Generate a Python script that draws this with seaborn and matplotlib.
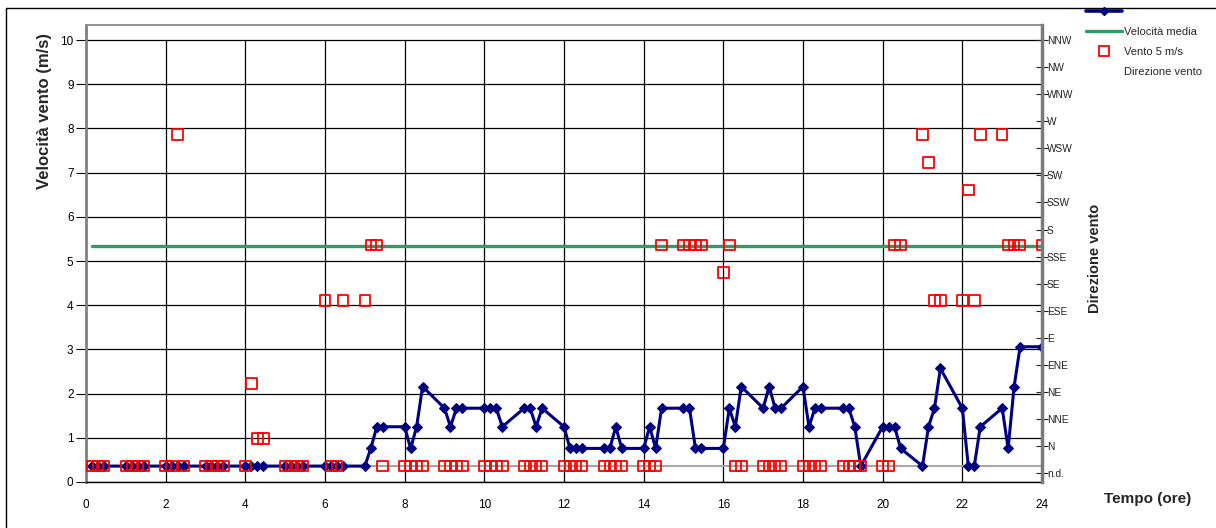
import matplotlib
matplotlib.use('Agg')
import matplotlib.pyplot as plt
from matplotlib.lines import Line2D
import seaborn as sns

# sample times (hours)
times = [0.15, 0.3, 0.45,
         1.0, 1.15, 1.3, 1.45, 2.0, 2.15, 2.3, 2.45, 3.0, 3.15, 3.3, 3.45,
         4.0, 4.15, 4.3, 4.45, 5.0, 5.15, 5.3, 5.45, 6.0, 6.15, 6.3, 6.45,
         7.0, 7.15, 7.3, 7.45, 8.0, 8.15, 8.3, 8.45, 9.0, 9.15, 9.3, 9.45,
         10.0, 10.15, 10.3, 10.45, 11.0, 11.15, 11.3, 11.45, 12.0, 12.15, 12.3, 12.45,
         13.0, 13.15, 13.3, 13.45, 14.0, 14.15, 14.3, 14.45, 15.0, 15.15, 15.3, 15.45,
         16.0, 16.15, 16.3, 16.45, 17.0, 17.15, 17.3, 17.45, 18.0, 18.15, 18.3, 18.45,
         19.0, 19.15, 19.3, 19.45, 20.0, 20.15, 20.3, 20.45, 21.0, 21.15, 21.3, 21.45,
         22.0, 22.15, 22.3, 22.45, 23.0, 23.15, 23.3, 23.45, 24.0]

# wind speed (m/s)
speed = [0.36, 0.36, 0.36,
         0.36, 0.36, 0.36, 0.36, 0.36, 0.36, 0.36, 0.36, 0.36, 0.36, 0.36, 0.36,
         0.36, 0.36, 0.36, 0.36, 0.36, 0.36, 0.36, 0.36, 0.36, 0.36, 0.36, 0.36,
         0.36, 0.76, 1.25, 1.25, 1.25, 0.76, 1.25, 2.16, 1.67, 1.25, 1.67, 1.67,
         1.67, 1.67, 1.67, 1.25, 1.67, 1.67, 1.25, 1.67, 1.25, 0.76, 0.76, 0.76,
         0.76, 0.76, 1.25, 0.76, 0.76, 1.25, 0.76, 1.67, 1.67, 1.67, 0.76, 0.76,
         0.76, 1.67, 1.25, 2.16, 1.67, 2.16, 1.67, 1.67, 2.16, 1.25, 1.67, 1.67,
         1.67, 1.67, 1.25, 0.36, 1.25, 1.25, 1.25, 0.76, 0.36, 1.25, 1.67, 2.57,
         1.67, 0.36, 0.36, 1.25, 1.67, 0.76, 2.16, 3.06, 3.06]

# wind direction
direction = ['n.d.', 'n.d.', 'n.d.',
             'n.d.', 'n.d.', 'n.d.', 'n.d.', 'n.d.', 'n.d.', 'WSW', 'n.d.', 'n.d.', 'n.d.', 'n.d.', 'n.d.',
             'n.d.', 'NE', 'N', 'N', 'n.d.', 'n.d.', 'n.d.', 'n.d.', 'ESE', 'n.d.', 'n.d.', 'ESE',
             'ESE', 'SSE', 'SSE', 'n.d.', 'n.d.', 'n.d.', 'n.d.', 'n.d.', 'n.d.', 'n.d.', 'n.d.', 'n.d.',
             'n.d.', 'n.d.', 'n.d.', 'n.d.', 'n.d.', 'n.d.', 'n.d.', 'n.d.', 'n.d.', 'n.d.', 'n.d.', 'n.d.',
             'n.d.', 'n.d.', 'n.d.', 'n.d.', 'n.d.', 'n.d.', 'n.d.', 'SSE', 'SSE', 'SSE', 'SSE', 'SSE',
             'SE', 'SSE', 'n.d.', 'n.d.', 'n.d.', 'n.d.', 'n.d.', 'n.d.', 'n.d.', 'n.d.', 'n.d.', 'n.d.',
             'n.d.', 'n.d.', 'n.d.', 'n.d.', 'n.d.', 'n.d.', 'SSE', 'SSE', 'WSW', 'SW', 'ESE', 'ESE',
             'ESE', 'SSW', 'ESE', 'WSW', 'WSW', 'SSE', 'SSE', 'SSE', 'SSE']

mean_speed = 5.35
nd_level = 0.36

dir_labels = ['n.d.', 'N', 'NNE', 'NE', 'ENE', 'E', 'ESE', 'SE', 'SSE', 'S',
              'SSW', 'SW', 'WSW', 'W', 'WNW', 'NW', 'NNW']

# direction codes drawn on the speed scale (n.d. at 0.36, 0.625 per step)
dir_level = [nd_level + 0.625 * dir_labels.index(d) for d in direction]

sns.set_style('white')
plt.rcParams['font.family'] = ['Liberation Sans', 'DejaVu Sans']

fig = plt.figure(figsize=(12.16, 5.28), dpi=100)
ax = fig.add_axes([86 / 1216, 46 / 528, 956 / 1216, 457 / 528])
y_top = 10.34

ax.axhline(nd_level, color='#a6a6a6', lw=1.5, zorder=1)
sns.lineplot(x=times, y=[mean_speed] * len(times), ax=ax, color='#339966',
             lw=2.4, zorder=2)
sns.lineplot(x=times, y=speed, ax=ax, color='#000080', lw=2.2, marker='D',
             markersize=5.5, markeredgecolor='#000080', estimator=None,
             sort=False, zorder=3)
sns.scatterplot(x=times, y=dir_level, ax=ax, marker='s', s=58,
                facecolor='none', edgecolor='#ff0000', linewidth=1.3, zorder=4)

ax.set_xlim(0, 24)
ax.set_ylim(0, y_top)
ax.set_xticks(range(0, 25, 2))
ax.set_yticks(range(0, 11))
ax.grid(True, axis='y', color='black', lw=0.9)
ax.vlines(range(2, 24, 2), 0, 10, color='black', lw=0.9, zorder=0.5)
ax.set_axisbelow(True)
ax.tick_params(axis='both', direction='out', width=0.8,
               labelsize=8.5, colors='black')
ax.tick_params(axis='y', length=7, pad=2)
ax.tick_params(axis='x', length=3, pad=9)
ax.spines['right'].set_visible(False)
ax.spines['top'].set_color('#8c8c8c')
ax.spines['top'].set_linewidth(1.3)
ax.spines['left'].set_color('#808080')
ax.spines['left'].set_linewidth(2)
ax.spines['bottom'].set_color('black')
ax.spines['bottom'].set_linewidth(1)
ax.set_xlabel('')
ax.set_ylabel('')

# right axis with direction labels
ax2 = ax.twinx()
ax2.set_ylim(-0.3265, (y_top - 0.2) / 0.6125)
ax2.set_yticks(range(len(dir_labels)))
ax2.set_yticklabels(dir_labels)
ax2.tick_params(axis='y', direction='inout', length=9, width=0.8,
                labelsize=7.3, pad=-1, colors='#222222')
for s in ['top', 'left', 'bottom']:
    ax2.spines[s].set_visible(False)
ax2.spines['right'].set_color('#7a7a7a')
ax2.spines['right'].set_linewidth(2.5)

fig.text(45 / 1216, 1 - 111 / 528, 'Velocità vento (m/s)', rotation=90,
         ha='center', va='center', fontsize=12, fontweight='bold')
fig.text(1095 / 1216, 1 - 258 / 528, 'Direzione vento', rotation=90,
         ha='center', va='center', fontsize=10.5, fontweight='bold')
fig.text(1148 / 1216, 1 - 499 / 528, 'Tempo (ore)', ha='center', va='center',
         fontsize=11, fontweight='bold')

handles = [
    Line2D([], [], color='#000080', lw=2.6, marker='D', markersize=4),
    Line2D([], [], color='#339966', lw=2.4),
    Line2D([], [], color='#ff0000', marker='s', markersize=7,
           markerfacecolor='none', markeredgewidth=1.3, linestyle='none'),
    Line2D([], [], linestyle='none'),
]
labels = [' ', 'Velocità media', 'Vento 5 m/s', 'Direzione vento']
fig.legend(handles, labels, loc='upper left',
           bbox_to_anchor=(1086 / 1216, 1 - 7 / 528), frameon=False,
           fontsize=8, handlelength=3.2, handletextpad=0.2,
           labelspacing=0.9, borderpad=0, borderaxespad=0)

# chart area frame (top and left edges visible)
fig.add_artist(Line2D([6 / 1216, 1], [1 - 8 / 528] * 2, color='black',
                      lw=1, transform=fig.transFigure))
fig.add_artist(Line2D([6 / 1216] * 2, [0, 1 - 8 / 528], color='black',
                      lw=1, transform=fig.transFigure))

plt.savefig('out.png', dpi=100)
plt.close()
